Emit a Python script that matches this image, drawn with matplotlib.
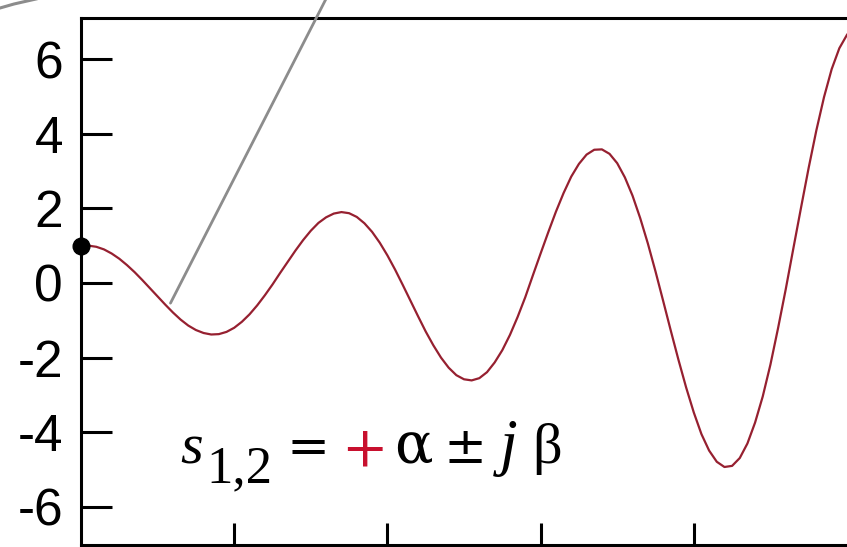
import matplotlib
matplotlib.use('Agg')
import matplotlib.pyplot as plt
from matplotlib.lines import Line2D
from matplotlib.transforms import IdentityTransform

# time axis, sampled every 0.05
t = [round(0.05 * k, 2) for k in range(101)]

# response (growing oscillation)
y = [1.00, 1.00, 0.97, 0.90, 0.79, 0.65, 0.48, 0.29, 0.08, -0.14,
     -0.36, -0.58, -0.79, -0.98, -1.14, -1.26, -1.34, -1.38, -1.37, -1.31,
     -1.20, -1.04, -0.84, -0.60, -0.33, -0.04, 0.27, 0.57, 0.87, 1.15,
     1.40, 1.61, 1.76, 1.86, 1.90, 1.87, 1.77, 1.60, 1.37, 1.08,
     0.74, 0.36, -0.05, -0.47, -0.89, -1.30, -1.67, -2.00, -2.27, -2.47,
     -2.58, -2.61, -2.55, -2.39, -2.13, -1.80, -1.39, -0.91, -0.38, 0.21,
     0.79, 1.36, 1.91, 2.41, 2.85, 3.19, 3.44, 3.57, 3.58, 3.46,
     3.21, 2.83, 2.34, 1.74, 1.06, 0.31, -0.48, -1.28, -2.06, -2.80,
     -3.47, -4.05, -4.49, -4.79, -4.93, -4.90, -4.69, -4.30, -3.74, -3.04,
     -2.19, -1.21, -0.17, 0.93, 2.02, 3.09, 4.09, 4.98, 5.73, 6.29,
     6.65]

start_point = (0.0, 1.0)
yticks = [-6, -4, -2, 0, 2, 4, 6]
xticks = [1, 2, 3, 4]
leader_end = (0.584, -0.54)

plt.rcParams['axes.unicode_minus'] = False

W, H = 847, 547
fig = plt.figure(figsize=(W / 100, H / 100), dpi=100)
ax = fig.add_axes([81.0 / W, 2.0 / H, (W - 81.0) / W, (545.0 - 18.0) / H])

ax.plot(t, y, color='#962030', lw=1.6, solid_joinstyle='round')
ax.plot(*start_point, 'o', color='black', ms=12, clip_on=False, zorder=5)

ax.set_xlim(0, 5)
ax.set_ylim(-7.02, 7.10)
ax.set_xticks(xticks)
ax.set_yticks(yticks)
ax.set_yticklabels([str(v) for v in yticks], fontfamily='Liberation Sans', fontsize=37)

ax.tick_params(axis='y', direction='in', length=22, width=2.2, pad=13)
ax.tick_params(axis='x', direction='in', length=16, width=2.2, labelbottom=False)
ax.spines['right'].set_visible(False)
for s in ('left', 'top', 'bottom'):
    ax.spines[s].set_linewidth(2.2)

# grey leader lines running off the picture
ax.annotate('', xy=leader_end, xycoords='data', xytext=(328, H + 5),
            textcoords='figure pixels',
            arrowprops=dict(arrowstyle='-', color='#8c8c8c', lw=2,
                            shrinkA=0, shrinkB=0), annotation_clip=False)
fig.add_artist(Line2D([0, 14, 36], [H - 8, H - 4, H + 1], color='#8c8c8c',
                      lw=2.2, transform=IdentityTransform()))

# s_{1,2} = +a +- jb
def put(x, yb, s, family='Liberation Serif', **kw):
    fig.text(x / W, 1 - yb / H, s, ha='left', va='baseline',
             fontfamily=family, **kw)

put(180, 463, 's', fontsize=42, style='italic')
put(206, 482, '1,2', fontsize=38)
put(287, 463, '=', fontsize=37, family='DejaVu Serif', fontweight='light')
put(341, 465, '+', fontsize=40, family='DejaVu Serif', color='#c8102e')
put(394, 463, 'α', fontsize=41, family='DejaVu Serif')
put(443, 463, '±', fontsize=37, family='DejaVu Serif')
put(500, 463, 'j', fontsize=46, style='italic')
put(532, 463, 'β', fontsize=42)

fig.savefig('out.png', dpi=100)
